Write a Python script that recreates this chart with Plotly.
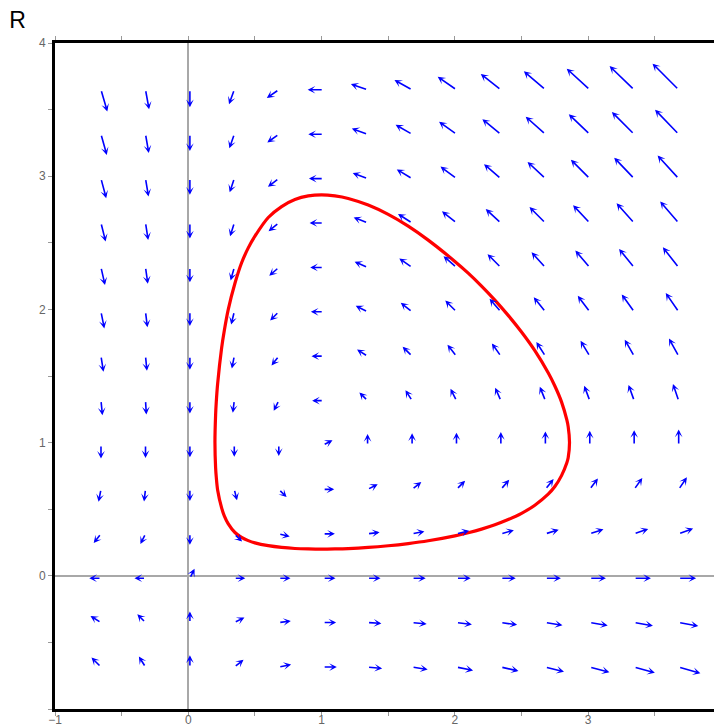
import plotly.graph_objects as go

# ---------------- data ----------------
GRID_X = [-0.667, -0.333, 0.0, 0.333, 0.667, 1.0, 1.333, 1.667, 2.0, 2.333, 2.667, 3.0, 3.333, 3.667]
GRID_Y = [-0.667, -0.333, 0.0, 0.333, 0.667, 1.0, 1.333, 1.667, 2.0, 2.333, 2.667, 3.0, 3.333, 3.667]

# field components (rows = GRID_Y ascending, cols = GRID_X)
U = [
    [-1.11, -0.56, 0, 0.56, 1.11, 1.67, 2.22, 2.78, 3.33, 3.89, 4.44, 5.0, 5.56, 6.11],
    [-0.89, -0.44, 0, 0.44, 0.89, 1.33, 1.78, 2.22, 2.67, 3.11, 3.56, 4.0, 4.44, 4.89],
    [-0.67, -0.33, 0.01, 0.33, 0.67, 1.0, 1.33, 1.67, 2.0, 2.33, 2.67, 3.0, 3.33, 3.67],
    [-0.44, -0.22, 0, 0.22, 0.44, 0.67, 0.89, 1.11, 1.33, 1.56, 1.78, 2.0, 2.22, 2.44],
    [-0.22, -0.11, 0, 0.11, 0.22, 0.33, 0.44, 0.56, 0.67, 0.78, 0.89, 1.0, 1.11, 1.22],
    [0, 0, 0, 0, 0, 0.02, 0, 0, 0, 0, 0, 0, 0, 0],
    [0.22, 0.11, 0, -0.11, -0.22, -0.33, -0.44, -0.56, -0.67, -0.78, -0.89, -1.0, -1.11, -1.22],
    [0.44, 0.22, 0, -0.22, -0.44, -0.67, -0.89, -1.11, -1.33, -1.56, -1.78, -2.0, -2.22, -2.44],
    [0.67, 0.33, 0, -0.33, -0.67, -1.0, -1.33, -1.67, -2.0, -2.33, -2.67, -3.0, -3.33, -3.67],
    [0.89, 0.44, 0, -0.44, -0.89, -1.33, -1.78, -2.22, -2.67, -3.11, -3.56, -4.0, -4.44, -4.89],
    [1.11, 0.56, 0, -0.56, -1.11, -1.67, -2.22, -2.78, -3.33, -3.89, -4.44, -5.0, -5.56, -6.11],
    [1.33, 0.67, 0, -0.67, -1.33, -2.0, -2.67, -3.33, -4.0, -4.67, -5.33, -6.0, -6.67, -7.33],
    [1.56, 0.78, 0, -0.78, -1.56, -2.33, -3.11, -3.89, -4.67, -5.44, -6.22, -7.0, -7.78, -8.56],
    [1.78, 0.89, 0, -0.89, -1.78, -2.67, -3.56, -4.44, -5.33, -6.22, -7.11, -8.0, -8.89, -9.78],
]
V = [
    [1.11, 0.89, 0.67, 0.44, 0.22, 0, -0.22, -0.44, -0.67, -0.89, -1.11, -1.33, -1.56, -1.78],
    [0.56, 0.44, 0.33, 0.22, 0.11, 0, -0.11, -0.22, -0.33, -0.44, -0.56, -0.67, -0.78, -0.89],
    [0, 0, 0.02, 0, 0, 0, 0, 0, 0, 0, 0, 0, 0, 0],
    [-0.56, -0.44, -0.33, -0.22, -0.11, 0, 0.11, 0.22, 0.33, 0.44, 0.56, 0.67, 0.78, 0.89],
    [-1.11, -0.89, -0.67, -0.44, -0.22, 0, 0.22, 0.44, 0.67, 0.89, 1.11, 1.33, 1.56, 1.78],
    [-1.67, -1.33, -1.0, -0.67, -0.33, 0.01, 0.33, 0.67, 1.0, 1.33, 1.67, 2.0, 2.33, 2.67],
    [-2.22, -1.78, -1.33, -0.89, -0.44, 0, 0.44, 0.89, 1.33, 1.78, 2.22, 2.67, 3.11, 3.56],
    [-2.78, -2.22, -1.67, -1.11, -0.56, 0, 0.56, 1.11, 1.67, 2.22, 2.78, 3.33, 3.89, 4.44],
    [-3.33, -2.67, -2.0, -1.33, -0.67, 0, 0.67, 1.33, 2.0, 2.67, 3.33, 4.0, 4.67, 5.33],
    [-3.89, -3.11, -2.33, -1.56, -0.78, 0, 0.78, 1.56, 2.33, 3.11, 3.89, 4.67, 5.44, 6.22],
    [-4.44, -3.56, -2.67, -1.78, -0.89, 0, 0.89, 1.78, 2.67, 3.56, 4.44, 5.33, 6.22, 7.11],
    [-5.0, -4.0, -3.0, -2.0, -1.0, 0, 1.0, 2.0, 3.0, 4.0, 5.0, 6.0, 7.0, 8.0],
    [-5.56, -4.44, -3.33, -2.22, -1.11, 0, 1.11, 2.22, 3.33, 4.44, 5.56, 6.67, 7.78, 8.89],
    [-6.11, -4.89, -3.67, -2.44, -1.22, 0, 1.22, 2.44, 3.67, 4.89, 6.11, 7.33, 8.56, 9.78],
]

# closed orbit (red): upper branch left->right, lower branch right->left
ORBIT_X = [0.2, 0.205, 0.21, 0.22, 0.25, 0.27, 0.3, 0.35, 0.4, 0.45, 0.5, 0.6, 0.7, 0.8, 0.9, 1.0,
           1.1, 1.2, 1.35, 1.5, 1.65, 1.8, 2.0, 2.1, 2.2, 2.3, 2.4, 2.5, 2.6, 2.7, 2.75, 2.8,
           2.84, 2.85, 2.86,
           2.85, 2.84, 2.8, 2.75, 2.7, 2.6, 2.5, 2.4, 2.3, 2.2, 2.1, 2.0, 1.8, 1.65, 1.5, 1.35,
           1.2, 1.1, 1.0, 0.9, 0.8, 0.7, 0.6, 0.5, 0.45, 0.4, 0.35, 0.3, 0.27, 0.25, 0.22, 0.21,
           0.205, 0.2]
ORBIT_Y = [1.0, 1.21, 1.305, 1.44, 1.71, 1.84, 2.0, 2.196, 2.35, 2.462, 2.55, 2.69, 2.772, 2.825,
           2.852, 2.86, 2.852, 2.833, 2.783, 2.713, 2.625, 2.52, 2.36, 2.272, 2.175, 2.07, 1.955,
           1.83, 1.69, 1.524, 1.425, 1.306, 1.17, 1.12, 1.0,
           0.886, 0.849, 0.752, 0.67, 0.6125, 0.53, 0.469, 0.422, 0.383, 0.3505, 0.3235, 0.30,
           0.263, 0.242, 0.2255, 0.213, 0.2045, 0.2015, 0.2, 0.2015, 0.205, 0.213, 0.226, 0.247,
           0.264, 0.288, 0.325, 0.39, 0.45, 0.51, 0.645, 0.74, 0.81, 1.0]

X_TICKS = [-1, -0.5, 0, 0.5, 1, 1.5, 2, 2.5, 3, 3.5]
X_LABELS = ["\u22121", "", "0", "", "1", "", "2", "", "3", ""]
Y_TICKS = [-1, -0.5, 0, 0.5, 1, 1.5, 2, 2.5, 3, 3.5, 4]
Y_LABELS = ["", "", "0", "", "1", "", "2", "", "3", "", "4"]

# ---------------- style ----------------
W, H = 714, 727
ML, MR, MT, MB = 55, 0, 43, 18
X_RANGE = [-1, 3.944]
Y_RANGE = [-1, 4]
PX = (W - ML - MR) / (X_RANGE[1] - X_RANGE[0])
BASE_PX, GAIN_PX = 10.4, 1.92
OFF_X, OFF_Y = 0.012, -0.018

fig = go.Figure()
fig.add_trace(go.Scatter(x=ORBIT_X, y=ORBIT_Y, mode="lines",
                         line=dict(color="#ff0000", width=3.2, shape="spline", smoothing=0.8),
                         hoverinfo="skip", showlegend=False))

annotations = []
for j, gy in enumerate(GRID_Y):
    for i, gx in enumerate(GRID_X):
        u, v = U[j][i], V[j][i]
        m = (u * u + v * v) ** 0.5
        if m == 0:
            continue
        L = (BASE_PX + GAIN_PX * m) / PX
        tx, ty = gx + OFF_X, gy + OFF_Y
        annotations.append(dict(
            x=tx + L * u / m, y=ty + L * v / m, ax=tx, ay=ty,
            xref="x", yref="y", axref="x", ayref="y",
            text="", showarrow=True, arrowhead=3, arrowsize=0.8, arrowwidth=1.6,
            arrowcolor="#0000ff", standoff=0, startstandoff=0))

TICK_FONT = dict(family="Liberation Sans, Arial, sans-serif", color="#666666", size=12)

fig.update_layout(
    width=W, height=H,
    margin=dict(l=ML, r=MR, t=MT, b=MB, autoexpand=False),
    paper_bgcolor="white", plot_bgcolor="white",
    showlegend=False,
    font=dict(family="Liberation Sans, Arial, sans-serif", color="#666666", size=12),
    title=dict(text="R", x=0.013, xanchor="left", xref="container",
               y=0.972, yanchor="middle", yref="container",
               font=dict(size=23, color="#000000", family="Liberation Sans, Arial, sans-serif")),
    annotations=annotations,
    xaxis=dict(range=X_RANGE, tickvals=X_TICKS, ticktext=X_LABELS, tickfont=TICK_FONT,
               showgrid=False, zeroline=True, zerolinecolor="#a8a8a8", zerolinewidth=2,
               showline=True, linecolor="#000000", linewidth=3, mirror="ticks",
               ticks="outside", ticklen=4, tickwidth=1, tickcolor="#999999",
               ticklabelstandoff=-6,
               automargin=False, fixedrange=True),
    yaxis=dict(range=Y_RANGE, tickvals=Y_TICKS, ticktext=Y_LABELS, tickfont=TICK_FONT,
               showgrid=False, zeroline=True, zerolinecolor="#a8a8a8", zerolinewidth=2,
               showline=True, linecolor="#000000", linewidth=3, mirror=False,
               ticks="outside", ticklen=4, tickwidth=1, tickcolor="#999999",
               automargin=False, fixedrange=True),
)

fig.write_html("out.html", config={"displayModeBar": False})
